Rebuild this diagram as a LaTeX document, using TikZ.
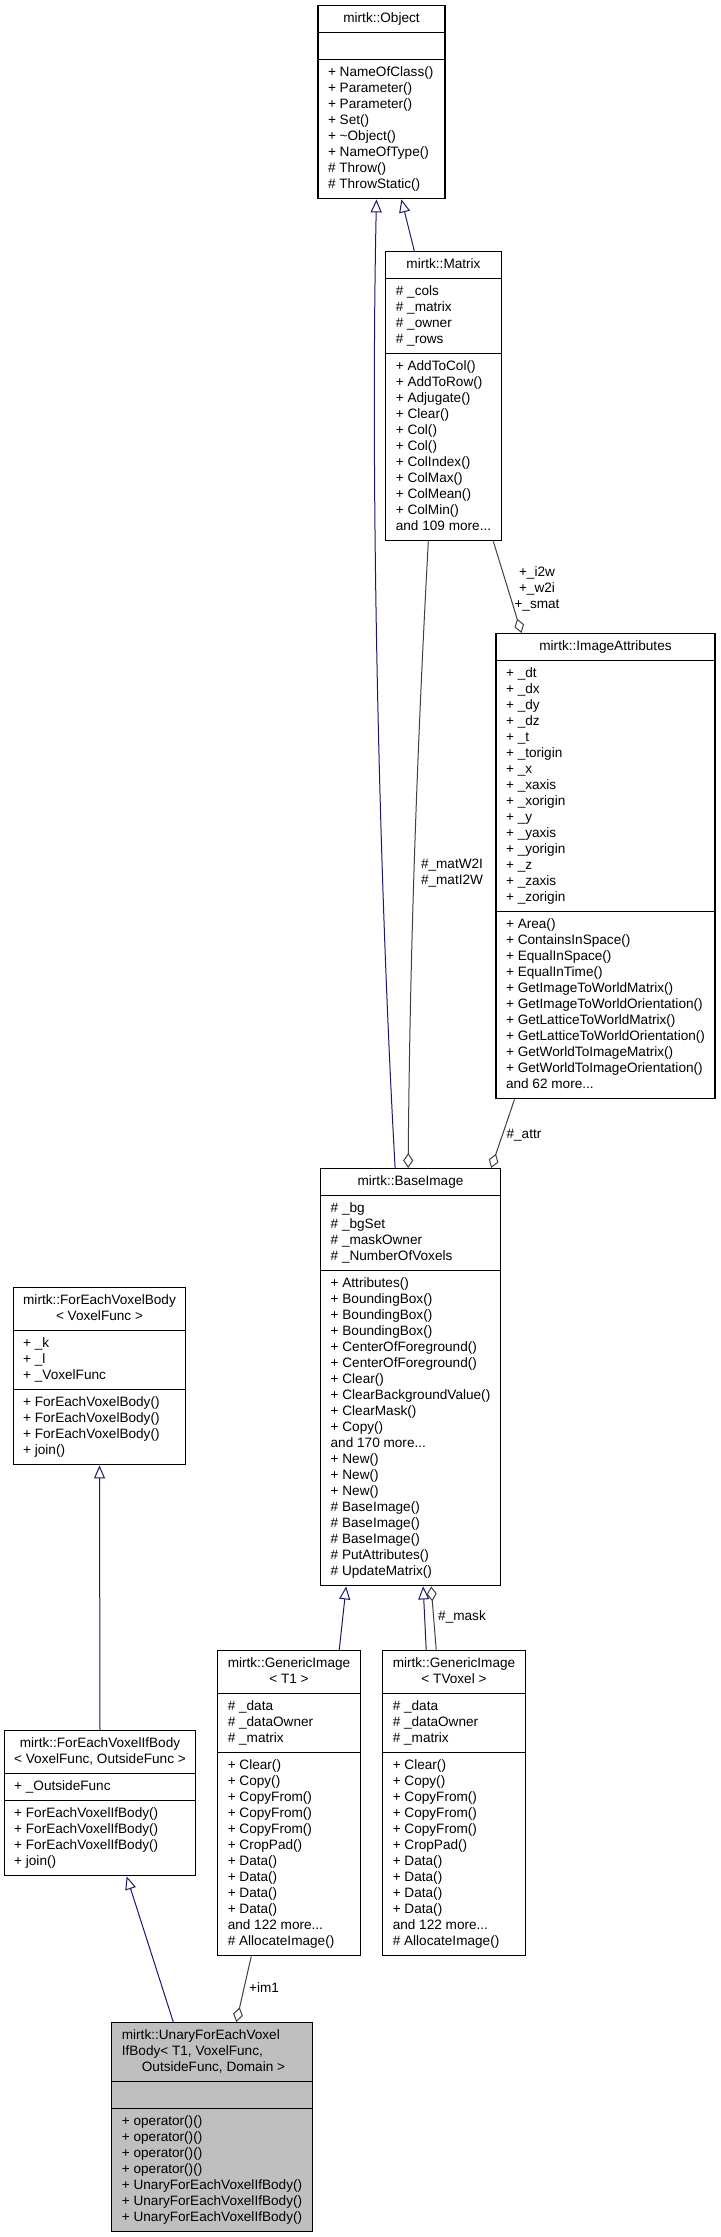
\documentclass[tikz,border=0pt]{standalone}
\usepackage{fontspec}
\setmainfont{Liberation Sans}
\usetikzlibrary{shapes.multipart,arrows.meta}

% Colours of the graph
\definecolor{inheritblue}{HTML}{191970}
\definecolor{usegray}{HTML}{404040}
\definecolor{focusfill}{HTML}{BFBFBF}

% Compartment contents (one tabular row per line)
\newcommand{\clstitle}[1]{\begin{tabular}{@{}c@{}}#1\end{tabular}}
\newcommand{\clsbody}[1]{\begin{tabular}{@{}l@{}}#1\end{tabular}}

\tikzset{
  umlclass/.style={draw=black, line width=1.1pt, fill=white,
    rectangle split, rectangle split parts=3,
    rectangle split part align={center,left,left},
    anchor=north, inner xsep=10pt, inner ysep=5pt,
    font=\fontsize{13.6}{16}\selectfont},
  inherit/.style={draw=inheritblue, line width=1pt,
    -{Triangle[open,length=13pt,width=11pt]}},
  aggr/.style={draw=usegray, line width=1pt,
    -{Diamond[open,length=15pt,width=10pt]}},
  edgelabel/.style={font=\fontsize{13.6}{16}\selectfont, align=center, inner sep=0pt}
}

\begin{document}
\begin{tikzpicture}[x=1pt, y=-1pt]

% Page frame
\fill[white] (0,0) rectangle (720,2237);
\useasboundingbox (0,0) rectangle (720,2237);

% Classes
\node[umlclass, minimum width=127pt] (object) at (381.5,5)
  {\clstitle{mirtk::Object}
   \nodepart{second}\strut
   \nodepart{third}\clsbody{+ NameOfClass()\\+ Parameter()\\+ Parameter()\\+ Set()\\
     + \textasciitilde Object()\\+ NameOfType()\\\# Throw()\\\# ThrowStatic()}};

\node[umlclass, minimum width=115pt] (matrix) at (443.5,251)
  {\clstitle{mirtk::Matrix}
   \nodepart{second}\clsbody{\# \_cols\\\# \_matrix\\\# \_owner\\\# \_rows}
   \nodepart{third}\clsbody{+ AddToCol()\\+ AddToRow()\\+ Adjugate()\\+ Clear()\\+ Col()\\
     + Col()\\+ ColIndex()\\+ ColMax()\\+ ColMean()\\+ ColMin()\\and 109 more...}};

\node[umlclass, minimum width=215pt] (attrs) at (605.5,633)
  {\clstitle{mirtk::ImageAttributes}
   \nodepart{second}\clsbody{+ \_dt\\+ \_dx\\+ \_dy\\+ \_dz\\+ \_t\\+ \_torigin\\+ \_x\\
     + \_xaxis\\+ \_xorigin\\+ \_y\\+ \_yaxis\\+ \_yorigin\\+ \_z\\+ \_zaxis\\+ \_zorigin}
   \nodepart{third}\clsbody{+ Area()\\+ ContainsInSpace()\\+ EqualInSpace()\\+ EqualInTime()\\
     + GetImageToWorldMatrix()\\+ GetImageToWorldOrientation()\\+ GetLatticeToWorldMatrix()\\
     + GetLatticeToWorldOrientation()\\+ GetWorldToImageMatrix()\\
     + GetWorldToImageOrientation()\\and 62 more...}};

\node[umlclass, minimum width=177pt] (base) at (410.5,1168)
  {\clstitle{mirtk::BaseImage}
   \nodepart{second}\clsbody{\# \_bg\\\# \_bgSet\\\# \_maskOwner\\\# \_NumberOfVoxels}
   \nodepart{third}\clsbody{+ Attributes()\\+ BoundingBox()\\+ BoundingBox()\\+ BoundingBox()\\
     + CenterOfForeground()\\+ CenterOfForeground()\\+ Clear()\\+ ClearBackgroundValue()\\
     + ClearMask()\\+ Copy()\\and 170 more...\\+ New()\\+ New()\\+ New()\\
     \# BaseImage()\\\# BaseImage()\\\# BaseImage()\\\# PutAttributes()\\\# UpdateMatrix()}};

\node[umlclass, minimum width=171pt] (body) at (99.5,1287)
  {\clstitle{mirtk::ForEachVoxelBody\\< VoxelFunc >}
   \nodepart{second}\clsbody{+ \_k\\+ \_l\\+ \_VoxelFunc}
   \nodepart{third}\clsbody{+ ForEachVoxelBody()\\+ ForEachVoxelBody()\\+ ForEachVoxelBody()\\
     + join()}};

\node[umlclass, minimum width=190pt] (ifbody) at (100,1730)
  {\clstitle{mirtk::ForEachVoxelIfBody\\< VoxelFunc, OutsideFunc >}
   \nodepart{second}\clsbody{+ \_OutsideFunc}
   \nodepart{third}\clsbody{+ ForEachVoxelIfBody()\\+ ForEachVoxelIfBody()\\
     + ForEachVoxelIfBody()\\+ join()}};

\node[umlclass, minimum width=142pt] (genone) at (289,1650)
  {\clstitle{mirtk::GenericImage\\< T1 >}
   \nodepart{second}\clsbody{\# \_data\\\# \_dataOwner\\\# \_matrix}
   \nodepart{third}\clsbody{+ Clear()\\+ Copy()\\+ CopyFrom()\\+ CopyFrom()\\+ CopyFrom()\\
     + CropPad()\\+ Data()\\+ Data()\\+ Data()\\+ Data()\\and 122 more...\\\# AllocateImage()}};

\node[umlclass, minimum width=142pt] (genvox) at (454,1650)
  {\clstitle{mirtk::GenericImage\\< TVoxel >}
   \nodepart{second}\clsbody{\# \_data\\\# \_dataOwner\\\# \_matrix}
   \nodepart{third}\clsbody{+ Clear()\\+ Copy()\\+ CopyFrom()\\+ CopyFrom()\\+ CopyFrom()\\
     + CropPad()\\+ Data()\\+ Data()\\+ Data()\\+ Data()\\and 122 more...\\\# AllocateImage()}};

% The documented class (grey)
\node[umlclass, fill=focusfill, minimum width=198pt,
      rectangle split part align={left,left,left}] (unary) at (212,2022)
  {\clsbody{mirtk::UnaryForEachVoxel\\IfBody< T1, VoxelFunc,\\
     \hspace*{20pt}OutsideFunc, Domain >}
   \nodepart{second}\strut
   \nodepart{third}\clsbody{+ operator()()\\+ operator()()\\+ operator()()\\+ operator()()\\
     + UnaryForEachVoxelIfBody()\\+ UnaryForEachVoxelIfBody()\\+ UnaryForEachVoxelIfBody()}};

% Inheritance
\draw[inherit] ([xshift=29pt]matrix.north west) -- ([xshift=84pt]object.south west);
\draw[inherit] ([xshift=75pt]base.north west)
  .. controls (380,900) and (370,500) .. ([xshift=59pt]object.south west);
\draw[inherit] ([xshift=122pt]genone.north west) -- ([xshift=26pt]base.south west);
\draw[inherit] ([xshift=44pt]genvox.north west) -- ([xshift=103pt]base.south west);
\draw[inherit] (ifbody.north) -- (body.south);
\draw[inherit] ([xshift=62pt]unary.north west) -- ([xshift=123pt]ifbody.south west);

% Usage (aggregation)
\draw[aggr] ([xshift=43pt]matrix.south west)
  .. controls (417,750) and (410,950) .. ([xshift=88pt]base.north west);
\draw[aggr] ([xshift=108pt]matrix.south west) -- ([xshift=26pt]attrs.north west);
\draw[aggr] ([xshift=19pt]attrs.south west) -- ([xshift=171pt]base.north west);
\draw[aggr] ([xshift=54pt]genvox.north west) -- ([xshift=111pt]base.south west);
\draw[aggr] ([xshift=34pt]genone.south west) -- ([xshift=125pt]unary.north west);

% Labels
\node[edgelabel] (lblmat) at (452,873) {\#\_matW2I\\\#\_matI2W};
\node[edgelabel] (lblw2i) at (537,589) {+\_i2w\\+\_w2i\\+\_smat};
\node[edgelabel] (lblattr) at (524,1135) {\#\_attr};
\node[edgelabel] (lblmask) at (462,1617) {\#\_mask};
\node[edgelabel] (lblim) at (264,1988) {+im1};

\end{tikzpicture}
\end{document}
